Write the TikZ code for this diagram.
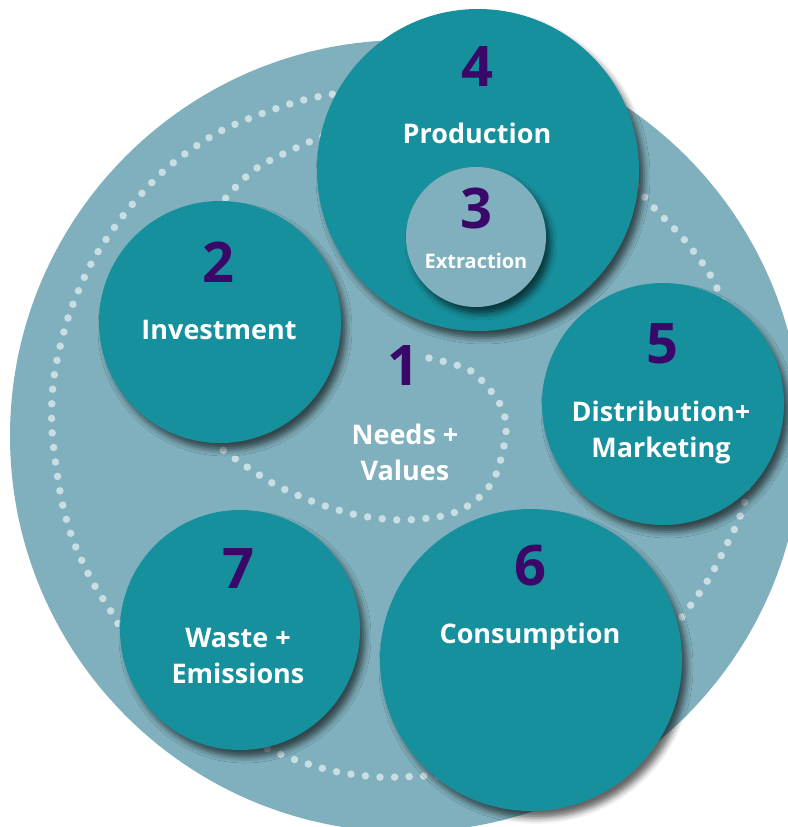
\documentclass[tikz,border=0pt]{standalone}
\usepackage{fontspec}
\setmainfont{Open Sans}
\usepackage{tikz}
\usetikzlibrary{shadows.blur}

\definecolor{ringbg}{HTML}{80B0BD}
\definecolor{bubble}{HTML}{17909D}
\definecolor{dotcol}{HTML}{C9DEE3}
\definecolor{numcol}{HTML}{3A0868}

\begin{document}
\begin{tikzpicture}[x=1pt,y=-1pt,
    stage/.style={circle,fill=bubble,inner sep=0pt,
        blur shadow={shadow xshift=5pt,shadow yshift=-7pt,shadow blur radius=6pt,shadow opacity=60}},
    num/.style={anchor=base,text=numcol,font=\bfseries\fontsize{56}{56}\selectfont},
    lbl/.style={anchor=base,text=white,align=center,font=\bfseries\fontsize{27}{36}\selectfont},
    trail/.style={draw=dotcol,line width=7.5pt,line cap=round,dash pattern=on 0pt off 14.6pt}]
\useasboundingbox (0,0) rectangle (787,827);

\fill[ringbg] (406,436) circle (396pt);

% dotted trails
\draw[trail] plot[smooth cycle] coordinates {(328,95) (470,78) (585,125) (647,200) (687,243)
    (719,293) (748,400) (746,495) (724,550) (693,602) (600,718) (500,772) (423,776) (378,777)
    (333,771) (290,758) (263,747) (190,720) (140,665) (115,618) (92,581) (73,540) (61,497)
    (52,430) (54,377) (68,318) (92,262) (126,212) (167,168) (217,133) (272,110)};
\draw[trail] plot[smooth] coordinates {(429,358) (471,371) (500,404) (506,433) (495,477)
    (475,501) (447,515) (402,520) (357,515) (314,502) (274,484) (237,460) (215,442)
    (190,400) (175,320) (195,240) (225,199) (257,168) (309,142) (345,128)};

\node[stage,minimum size=322pt] (prod) at (478,170) {};
\node[stage,fill=ringbg,minimum size=140pt] (extr) at (476,237) {};
\node[stage,minimum size=242pt] (inv) at (220,322) {};
\node[stage,minimum size=242pt] (distr) at (663,404) {};
\node[stage,minimum size=302pt] (cons) at (531,660) {};
\node[stage,minimum size=240pt] (waste) at (240,630) {};

% numbers sit on their baselines, two-line labels on the last line
\node[num] (prodnum) at (477,86) {4};
\node[lbl] (prodlbl) at (477,143) {Production};
\node[num] (extrnum) at (476,228) {3};
\node[lbl,font=\bfseries\fontsize{20}{26}\selectfont] (extrlbl) at (476,268) {Extraction};
\node[num] (invnum) at (218,282) {2};
\node[lbl] (invlbl) at (219,339) {Investment};
\node[num] (needsnum) at (403,385) {1};
\node[lbl] (needslbl) at (405,480) {Needs +\\Values};
\node[num] (distrnum) at (662,363) {5};
\node[lbl] (distrlbl) at (661,457) {Distribution+\\Marketing};
\node[num] (consnum) at (530,585) {6};
\node[lbl] (conslbl) at (530,643) {Consumption};
\node[num] (wastenum) at (238,588) {7};
\node[lbl] (wastelbl) at (238,683) {Waste +\\Emissions};
\end{tikzpicture}
\end{document}
